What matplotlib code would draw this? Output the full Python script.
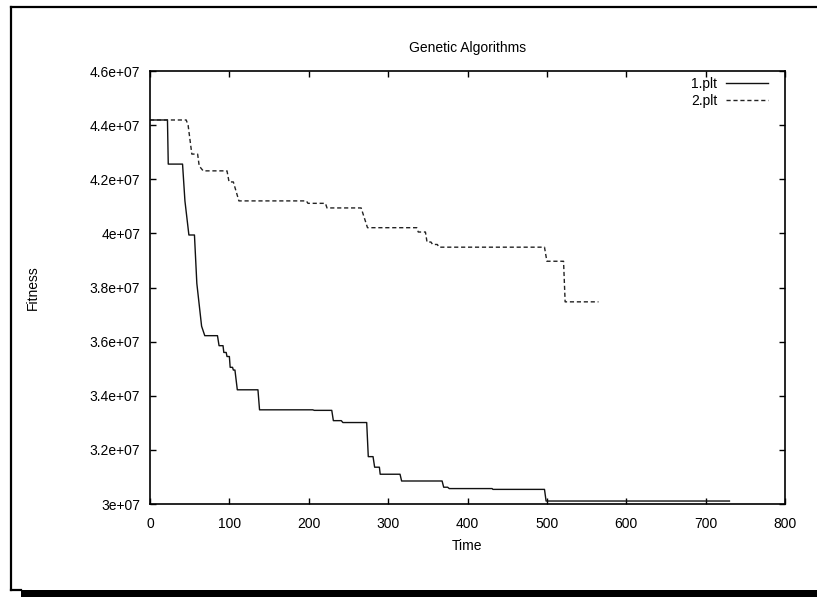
import matplotlib
matplotlib.use("Agg")
import matplotlib.pyplot as plt
from matplotlib.lines import Line2D
from matplotlib.patches import Rectangle

plt.rcParams['font.family'] = ['Liberation Sans', 'DejaVu Sans']

# run 1: best fitness over time (units of 1e7)
time_1 = [0, 22, 23, 41, 44, 49, 56, 59, 65, 69, 85, 87, 92, 93, 96, 97, 100,
          101, 104, 105, 107, 110, 136, 138, 205, 207, 229, 231, 241, 243, 273,
          275, 281, 283, 289, 290, 315, 317, 368, 370, 375, 377, 431, 432, 497,
          499, 730]
fit_1 = [4.419, 4.419, 4.256, 4.256, 4.12, 3.994, 3.994, 3.815, 3.657, 3.622,
         3.622, 3.585, 3.585, 3.56, 3.56, 3.545, 3.545, 3.505, 3.505, 3.495,
         3.495, 3.422, 3.422, 3.348, 3.348, 3.346, 3.346, 3.308, 3.308, 3.301,
         3.301, 3.175, 3.175, 3.136, 3.136, 3.11, 3.11, 3.085, 3.085, 3.062,
         3.062, 3.057, 3.057, 3.054, 3.054, 3.011, 3.011]

# run 2
time_2 = [0, 45.6, 48, 52.7, 60, 62, 67, 97, 99.6, 105, 112, 197, 199, 221, 223,
          266, 274, 336, 338, 347, 349, 354, 356, 362, 364, 497, 500, 521, 523,
          565]
fit_2 = [4.419, 4.419, 4.40, 4.293, 4.293, 4.249, 4.231, 4.231, 4.19, 4.19,
         4.12, 4.12, 4.111, 4.111, 4.094, 4.094, 4.021, 4.021, 4.005, 4.005,
         3.968, 3.968, 3.959, 3.959, 3.949, 3.949, 3.897, 3.897, 3.747, 3.747]

labels = ["1.plt", "2.plt"]
x_ticks = [0, 100, 200, 300, 400, 500, 600, 700, 800]
y_ticks = [3.0e7, 3.2e7, 3.4e7, 3.6e7, 3.8e7, 4.0e7, 4.2e7, 4.4e7, 4.6e7]
y_tick_labels = ["3e+07", "3.2e+07", "3.4e+07", "3.6e+07", "3.8e+07",
                 "4e+07", "4.2e+07", "4.4e+07", "4.6e+07"]

W, H = 817, 597
fig = plt.figure(figsize=(W / 100, H / 100), dpi=100)
ax = fig.add_axes([150 / W, 1 - 504 / H, (785 - 150) / W, (504 - 71) / H])

ax.plot(time_1, [v * 1e7 for v in fit_1], color='#111111', lw=1.0,
        label=labels[0])
ax.plot(time_2, [v * 1e7 for v in fit_2], color='#222222', lw=1.0,
        dashes=(3, 2), label=labels[1])

ax.set_xlim(0, 800)
ax.set_ylim(3.0e7, 4.6e7)
ax.set_xticks(x_ticks)
ax.set_yticks(y_ticks)
ax.set_yticklabels(y_tick_labels)
ax.tick_params(direction='in', top=True, right=True, length=4.5, width=1.0,
               labelsize=10, colors='black')
ax.tick_params(axis='x', pad=9)
ax.tick_params(axis='y', pad=7)
for s in ax.spines.values():
    s.set_linewidth(1.2)

ax.set_xlabel("Time", fontsize=10, labelpad=6)
ax.set_ylabel("Fitness", fontsize=10, labelpad=36)
ax.set_title("Genetic Algorithms", fontsize=10, pad=14)

leg = ax.legend(loc='upper right', frameon=False, markerfirst=False,
                fontsize=10, handlelength=3.0, handletextpad=0.65,
                labelspacing=0.22, borderaxespad=0, borderpad=0,
                bbox_to_anchor=(1 - 17 / 635, 1 - 6 / 433))
for t in leg.get_texts():
    t.set_ha('right')

# page frame with a drop shadow along the bottom
fig.add_artist(Line2D([11 / W, 1.0], [1 - 7 / H, 1 - 7 / H],
                      transform=fig.transFigure, color='black', lw=1.6))
fig.add_artist(Line2D([11 / W, 11 / W], [1 - 7 / H, 1 - 589.5 / H],
                      transform=fig.transFigure, color='black', lw=1.6))
fig.add_artist(Line2D([11 / W, 21 / W], [1 - 589.5 / H, 1 - 589.5 / H],
                      transform=fig.transFigure, color='black', lw=1.6))
fig.add_artist(Rectangle((21 / W, 0), 1 - 21 / W, 7 / H,
                         transform=fig.transFigure, color='black', lw=0))

fig.savefig("out.png", dpi=100)
